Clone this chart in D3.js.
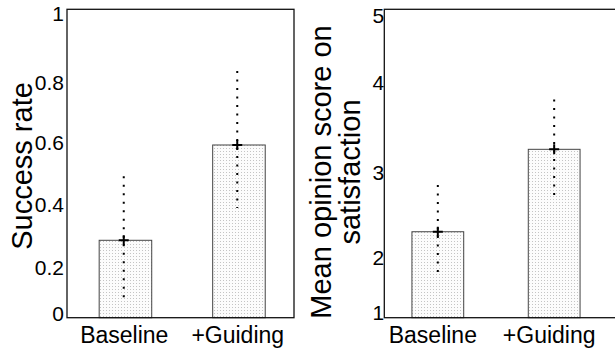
<!DOCTYPE html>
<html>
<head>
<meta charset="utf-8">
<script src="https://cdn.jsdelivr.net/npm/d3@7"></script>
<style>
  body { margin: 0; background: #fff; }
  text { font-family: "Liberation Sans", Arial, sans-serif; fill: #000; }
</style>
</head>
<body>
<svg id="chart" width="615" height="351"></svg>
<script>
const categories = ['Baseline', '+Guiding'];

// left panel: success rate
const successMean = [0.251, 0.560];
const successLow = [0.045, 0.356];
const successHigh = [0.459, 0.800];
const successTicks = [0, 0.2, 0.4, 0.6, 0.8, 1];

// right panel: mean opinion score
const mosMean = [2.115, 3.184];
const mosLow = [1.54, 2.55];
const mosHigh = [2.72, 3.83];
const mosTicks = [1, 2, 3, 4, 5];

const svg = d3.select('#chart');
const tickFont = 21;

// dotted grey fill like the matlab hatch
const pat = svg.append('defs').append('pattern')
  .attr('id', 'dots')
  .attr('width', 3).attr('height', 3)
  .attr('patternUnits', 'userSpaceOnUse');
pat.append('rect').attr('width', 3).attr('height', 3).attr('fill', '#fcfcfc');
pat.append('rect').attr('x', 1).attr('y', 1).attr('width', 1).attr('height', 1).attr('fill', '#c4c4c4');

function drawPanel(p) {
  const x = d3.scaleLinear().domain(p.xDomain).range([p.left, p.right]);
  const y = d3.scaleLinear().domain(p.yDomain).range([p.bottom, p.top]);
  const g = svg.append('g');
  const idx = d3.range(categories.length);

  // bars
  g.selectAll('rect.bar').data(idx).join('rect')
    .attr('class', 'bar')
    .attr('x', i => x(i + 1 - p.barWidth / 2) + p.barShift)
    .attr('width', x(1 + p.barWidth) - x(1))
    .attr('y', i => y(p.mean[i]))
    .attr('height', i => y(p.yDomain[0]) - y(p.mean[i]))
    .attr('fill', 'url(#dots)')
    .attr('stroke', '#444')
    .attr('stroke-width', 1);

  // dotted error lines
  g.selectAll('line.err').data(idx).join('line')
    .attr('class', 'err')
    .attr('x1', i => x(i + 1)).attr('x2', i => x(i + 1))
    .attr('y1', i => y(p.high[i])).attr('y2', i => y(p.low[i]))
    .attr('stroke', '#000')
    .attr('stroke-width', 2)
    .attr('stroke-dasharray', '2 6.5');

  // plus markers at the mean
  g.selectAll('path.mk').data(idx).join('path')
    .attr('class', 'mk')
    .attr('d', i => {
      const cx = x(i + 1), cy = y(p.mean[i]);
      return `M${cx - 5},${cy}H${cx + 5}M${cx},${cy - 5}V${cy + 5}`;
    })
    .attr('stroke', '#000')
    .attr('stroke-width', 2);

  // box
  g.append('rect')
    .attr('x', p.left).attr('y', p.top)
    .attr('width', p.right - p.left).attr('height', p.bottom - p.top)
    .attr('fill', 'none')
    .attr('stroke', '#111')
    .attr('stroke-width', 1.3);

  // y tick labels
  const ya = g.append('g')
    .attr('transform', `translate(${p.left},0)`)
    .call(d3.axisLeft(y).tickValues(p.ticks).tickSize(0).tickPadding(p.tickPad).tickFormat(d => String(d)));
  ya.select('.domain').remove();
  ya.selectAll('text')
    .style('font-family', '"Liberation Sans", Arial, sans-serif')
    .style('font-size', tickFont + 'px')
    .attr('dy', (d, i) => p.tickNudge[i] + 0.35 * tickFont);

  // category labels
  const xa = g.append('g')
    .attr('transform', `translate(0,${p.bottom})`)
    .call(d3.axisBottom(x).tickValues([1, 2]).tickSize(0).tickFormat(d => categories[d - 1]));
  xa.select('.domain').remove();
  xa.selectAll('text')
    .style('font-family', '"Liberation Sans", Arial, sans-serif')
    .style('font-size', '23px')
    .attr('y', 25).attr('dy', 0)
    .attr('dx', p.catNudge);

  // y title
  const t = g.append('text')
    .attr('transform', `translate(${p.titleX},${p.titleY}) rotate(-90)`)
    .attr('text-anchor', 'middle')
    .style('font-size', '29px');
  p.title.forEach((line, k) => {
    t.append('tspan').attr('x', 0).attr('dy', k === 0 ? 0 : 29).text(line);
  });
}

drawPanel({
  left: 67, right: 294, top: 9.3, bottom: 317.7,
  xDomain: [0.5, 2.5], yDomain: [0, 1],
  barWidth: 0.463, barShift: 1.7,
  mean: successMean, low: successLow, high: successHigh,
  ticks: successTicks, tickPad: 3,
  tickNudge: [-4.7, 11, 10.3, 9.7, 11, 4],
  catNudge: 0,
  title: ['Success rate'], titleX: 32, titleY: 166
});

drawPanel({
  left: 384.3, right: 617, top: 9.3, bottom: 317.7,
  xDomain: [0.54, 2.54], yDomain: [1, 5],
  barWidth: 0.445, barShift: 0,
  mean: mosMean, low: mosLow, high: mosHigh,
  ticks: mosTicks, tickPad: 0,
  tickNudge: [-5.7, 17, 8.5, -4.4, 6],
  catNudge: -5.5,
  title: ['Mean opinion score on', 'satisfaction'], titleX: 331, titleY: 172
});
</script>
</body>
</html>
